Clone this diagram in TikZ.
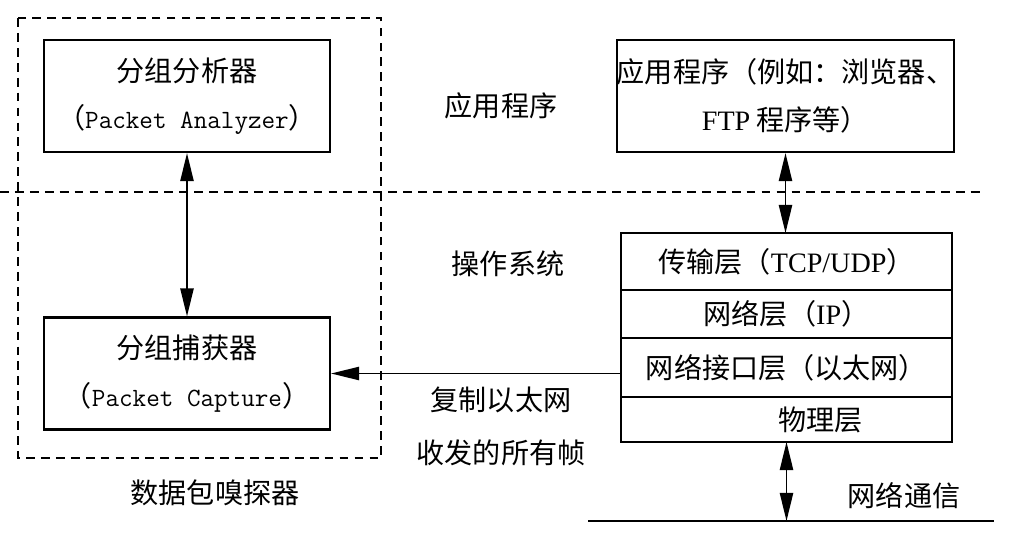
\documentclass[tikz,border=0pt]{standalone}
\usepackage{fontspec}
\setmainfont{Noto Sans CJK SC}
\newfontfamily\monofnt{Latin Modern Mono}
\newfontfamily\romfnt{Liberation Serif}
\usetikzlibrary{arrows.meta,positioning}

\tikzset{
  txt/.style = {align=center, inner sep=0pt, text centered,
    font=\fontsize{16}{27}\selectfont},
  pkt_box/.style = {txt, draw=black, line width=1.2pt,
    minimum width=5.72cm, minimum height=2.24cm},% bloc du renifleur
  app_box/.style = {txt, draw=black, line width=1.2pt,
    minimum width=6.7cm, minimum height=2.24cm},
  lay_box/.style = {txt, draw=black, line width=1.2pt, outer sep=0pt,
    minimum width=6.62cm},% couche de la pile
  zone/.style = {draw=black, line width=1pt, dash pattern=on 5pt off 3.5pt},
  link/.style = {line width=1.1pt,
    {Triangle[length=16pt,width=7.5pt]}-{Triangle[length=16pt,width=7.5pt]}},
  feed/.style = {line width=1.1pt, -{Triangle[length=16pt,width=7.5pt]}}
}

\begin{document}
\begin{tikzpicture}[x=0.02cm, y=-0.02cm]
\useasboundingbox (0,0) rectangle (1018,555);
% renifleur
\node [pkt_box] (ana) at (187,96) {分组分析器\\（{\monofnt\fontsize{15}{27}\selectfont Packet Analyzer}）};
\node [pkt_box] (cap) at (187,373.5) {分组捕获器\\（{\monofnt\fontsize{15}{27}\selectfont Packet Capture}）};
\draw [zone] (18,18) rectangle (381,458);
\node [txt] (sniff) at (215,493) {数据包嗅探器};
% frontiere
\draw [zone] (0,192) -- (985,192);
\node [txt] (app_lbl) at (501,106) {应用程序};
\node [txt] (os_lbl) at (508,264) {操作系统};
% pile
\node [app_box] (app) at (785.5,96) {应用程序（例如：浏览器、\\{\romfnt FTP} 程序等）};
\node [lay_box, minimum height=1.14cm] (tl) at (786.5,261.5) {\raisebox{-0.2cm}{传输层（{\romfnt TCP/UDP}）}};
\node [lay_box, minimum height=0.96cm, below=0pt of tl] (nl) {网络层（{\romfnt IP}）};
\node [lay_box, minimum height=1.18cm, below=0pt of nl] (il) {网络接口层（以太网）};
\node [lay_box, minimum height=0.9cm, below=0pt of il] (pl) {\hspace*{1.36cm}物理层};
% reseau
\coordinate (net_l) at (588,521);
\coordinate (net_r) at (994,521);
\draw [line width=1.5pt] (net_l) -- (net_r);
\node [txt] (net_lbl) at (904,496) {网络通信};
\node [txt, font=\fontsize{16}{30}\selectfont] (copy_lbl) at (501,426) {复制以太网\\收发的所有帧};
% liens
\draw [link] (ana.south) -- (cap.north);
\draw [link] (app.south) -- (app.south |- tl.north);
\draw [link] (pl.south) -- (pl.south |- net_l);
\draw [feed] (il.west |- cap.east) -- (cap.east);
\end{tikzpicture}
\end{document}
